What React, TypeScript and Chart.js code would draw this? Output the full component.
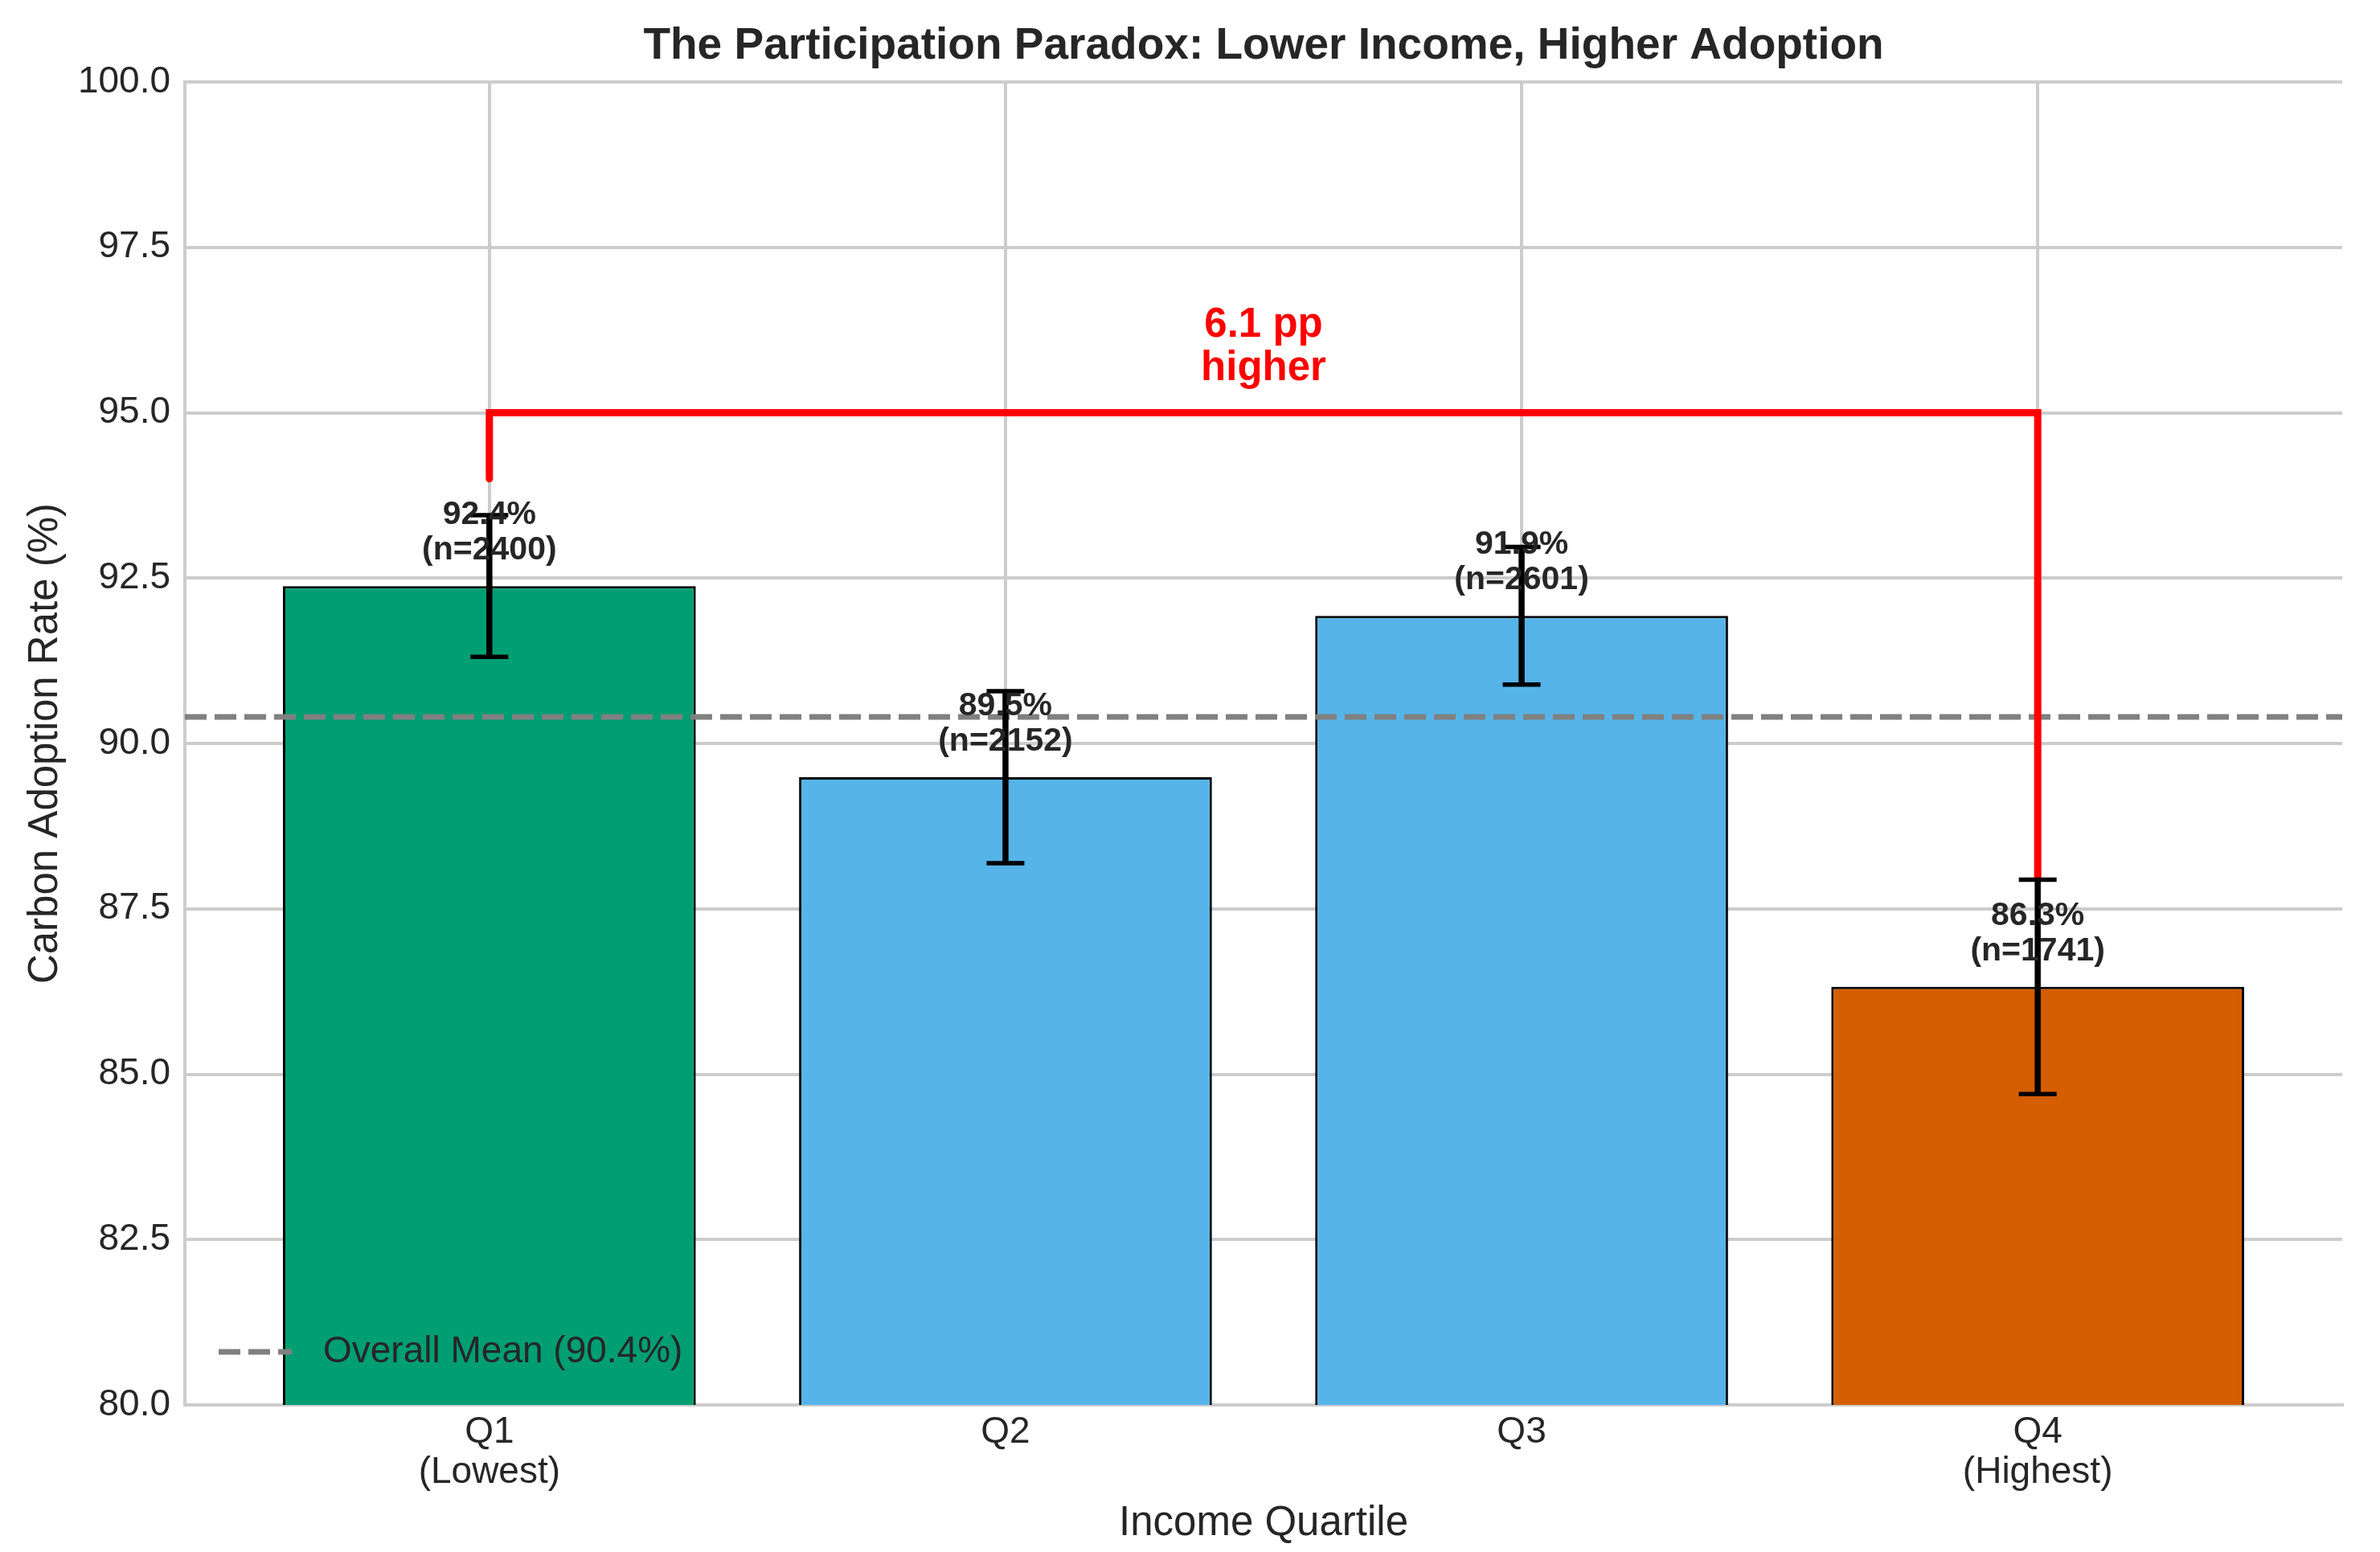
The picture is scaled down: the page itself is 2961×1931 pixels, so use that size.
import React, { useEffect, useRef } from 'react';
import { Chart, registerables } from 'chart.js';

Chart.register(...registerables);

// Datos del gráfico
const chartTitle = 'The Participation Paradox: Lower Income, Higher Adoption';
const quartileLabels: string[][] = [['Q1', '(Lowest)'], ['Q2'], ['Q3'], ['Q4', '(Highest)']];
const adoptionRates = [92.38, 89.49, 91.93, 86.32];
const errorMargins = [1.07, 1.3, 1.04, 1.62];
const sampleSizes = [2400, 2152, 2601, 1741];
const barColors = ['#009E73', '#56B4E9', '#56B4E9', '#D55E00'];
const overallMean = 90.4;
const xLimits = [-0.59, 3.59];
const yLimits = [80, 100];
const yStep = 2.5;
const bracketStartY = 94.0;
const bracketTopY = 95.0;

const FONT = "'Liberation Sans', Arial, Helvetica, sans-serif";
const TEXT = '#262626';
const GRID = '#cccccc';

const W = 2961;
const H = 1931;

const meanLabel = `Overall Mean (${overallMean.toFixed(1)}%)`;
const gapLabel = [`${(adoptionRates[0] - adoptionRates[3]).toFixed(1)} pp`, 'higher'];

// Título, barras de error, etiquetas y leyenda
const overlayPlugin = {
  id: 'overlay',
  afterDatasetsDraw(chart: any) {
    const { ctx, scales, chartArea } = chart;
    const xs = scales.x;
    const ys = scales.y;
    ctx.save();

    // título centrado sobre el área del gráfico
    ctx.fillStyle = TEXT;
    ctx.font = `bold 55px ${FONT}`;
    ctx.textAlign = 'center';
    ctx.textBaseline = 'alphabetic';
    ctx.fillText(chartTitle, (chartArea.left + chartArea.right) / 2, chartArea.top - 29);

    // barras de error
    adoptionRates.forEach((v, i) => {
      const x = xs.getPixelForValue(i);
      const yTop = ys.getPixelForValue(v + errorMargins[i]);
      const yBot = ys.getPixelForValue(v - errorMargins[i]);
      ctx.strokeStyle = '#000000';
      ctx.lineCap = 'butt';
      ctx.lineWidth = 7.5;
      ctx.beginPath();
      ctx.moveTo(x, yTop);
      ctx.lineTo(x, yBot);
      ctx.stroke();
      ctx.lineWidth = 5.5;
      ctx.beginPath();
      ctx.moveTo(x - 23.5, yTop);
      ctx.lineTo(x + 23.5, yTop);
      ctx.moveTo(x - 23.5, yBot);
      ctx.lineTo(x + 23.5, yBot);
      ctx.stroke();
    });

    // etiquetas de valor
    ctx.fillStyle = TEXT;
    ctx.font = `bold 41px ${FONT}`;
    adoptionRates.forEach((v, i) => {
      const x = xs.getPixelForValue(i);
      const base = ys.getPixelForValue(v + 0.3) - 8;
      ctx.fillText(`(n=${sampleSizes[i]})`, x, base);
      ctx.fillText(`${v.toFixed(1)}%`, x, base - 44);
    });

    // texto de la diferencia
    ctx.fillStyle = '#ff0000';
    ctx.font = `bold 51px ${FONT}`;
    const gx = xs.getPixelForValue(1.5);
    const gBase = ys.getPixelForValue(bracketTopY + 0.3) - 16;
    ctx.fillText(gapLabel[1], gx, gBase);
    ctx.fillText(gapLabel[0], gx, gBase - 54);

    // leyenda
    const ly = chartArea.bottom - 66;
    ctx.strokeStyle = '#808080';
    ctx.lineWidth = 7;
    ctx.setLineDash([27, 10]);
    ctx.beginPath();
    ctx.moveTo(chartArea.left + 42, ly);
    ctx.lineTo(chartArea.left + 133, ly);
    ctx.stroke();
    ctx.setLineDash([]);
    ctx.fillStyle = TEXT;
    ctx.font = `46px ${FONT}`;
    ctx.textAlign = 'left';
    ctx.textBaseline = 'middle';
    ctx.fillText(meanLabel, chartArea.left + 172, ly);

    ctx.restore();
  },
};

const ParticipationChart: React.FC = () => {
  const chartRef = useRef<HTMLCanvasElement>(null);
  const chartInstance = useRef<Chart | null>(null);

  useEffect(() => {
    document.body.style.margin = '0';
    if (!chartRef.current) return;
    if (chartInstance.current) chartInstance.current.destroy();
    const ctx = chartRef.current.getContext('2d');
    if (!ctx) return;

    Chart.defaults.font.family = FONT;
    Chart.defaults.color = TEXT;

    const lastTop = adoptionRates[3] + errorMargins[3];

    chartInstance.current = new Chart(ctx, {
      type: 'bar',
      data: {
        datasets: [
          {
            type: 'line',
            label: 'bracket',
            data: [
              { x: 0, y: bracketStartY },
              { x: 0, y: bracketTopY },
              { x: 3, y: bracketTopY },
              { x: 3, y: lastTop },
            ],
            borderColor: '#ff0000',
            borderWidth: 9,
            borderCapStyle: 'round',
            borderJoinStyle: 'miter',
            pointRadius: 0,
            tension: 0,
            fill: false,
            order: 1,
          } as any,
          {
            type: 'line',
            label: meanLabel,
            data: [
              { x: xLimits[0], y: overallMean },
              { x: xLimits[1], y: overallMean },
            ],
            borderColor: '#808080',
            borderWidth: 7,
            borderDash: [27, 10],
            pointRadius: 0,
            fill: false,
            order: 2,
          } as any,
          {
            type: 'bar',
            label: 'Adoption',
            data: adoptionRates.map((v, i) => ({ x: i, y: v })),
            backgroundColor: barColors,
            borderColor: '#000000',
            borderWidth: 3,
            borderSkipped: false,
            barPercentage: 1,
            categoryPercentage: 0.8,
            order: 3,
          } as any,
        ],
      },
      options: {
        responsive: false,
        animation: false,
        devicePixelRatio: 1,
        layout: { padding: { left: 0, right: 47, top: 102, bottom: 0 } },
        plugins: {
          legend: { display: false },
          tooltip: { enabled: false },
          title: { display: false },
        },
        scales: {
          x: {
            type: 'linear',
            min: xLimits[0],
            max: xLimits[1],
            offset: false,
            afterBuildTicks: (s: any) => {
              s.ticks = quartileLabels.map((_, i) => ({ value: i }));
            },
            afterFit: (s: any) => {
              s.height = 183;
            },
            ticks: {
              callback: (v: any) => quartileLabels[Math.round(Number(v))] || '',
              font: { size: 46, lineHeight: 1.07 },
              color: TEXT,
              padding: 10,
              maxRotation: 0,
              autoSkip: false,
            },
            grid: { color: GRID, lineWidth: 4, drawTicks: false, offset: false },
            border: { color: GRID, width: 4 },
            title: {
              display: true,
              text: 'Income Quartile',
              color: TEXT,
              font: { size: 51 },
              padding: { top: 0, bottom: 4 },
            },
          },
          y: {
            min: yLimits[0],
            max: yLimits[1],
            afterFit: (s: any) => {
              s.width = 230;
            },
            ticks: {
              stepSize: yStep,
              callback: (v: any) => Number(v).toFixed(1),
              font: { size: 46 },
              color: TEXT,
              padding: 18,
            },
            grid: { color: GRID, lineWidth: 4, drawTicks: false },
            border: { color: GRID, width: 4 },
            title: {
              display: true,
              text: 'Carbon Adoption Rate (%)',
              color: TEXT,
              font: { size: 51 },
              padding: { top: 26, bottom: 0 },
            },
          },
        },
      },
      plugins: [overlayPlugin],
    });

    return () => {
      if (chartInstance.current) {
        chartInstance.current.destroy();
        chartInstance.current = null;
      }
    };
  }, []);

  return (
    <div style={{ width: W, height: H, overflow: 'hidden', background: '#ffffff' }}>
      <canvas ref={chartRef} width={W} height={H} style={{ display: 'block', width: W, height: H }}></canvas>
    </div>
  );
};

export default function App() {
  return <ParticipationChart />;
}
